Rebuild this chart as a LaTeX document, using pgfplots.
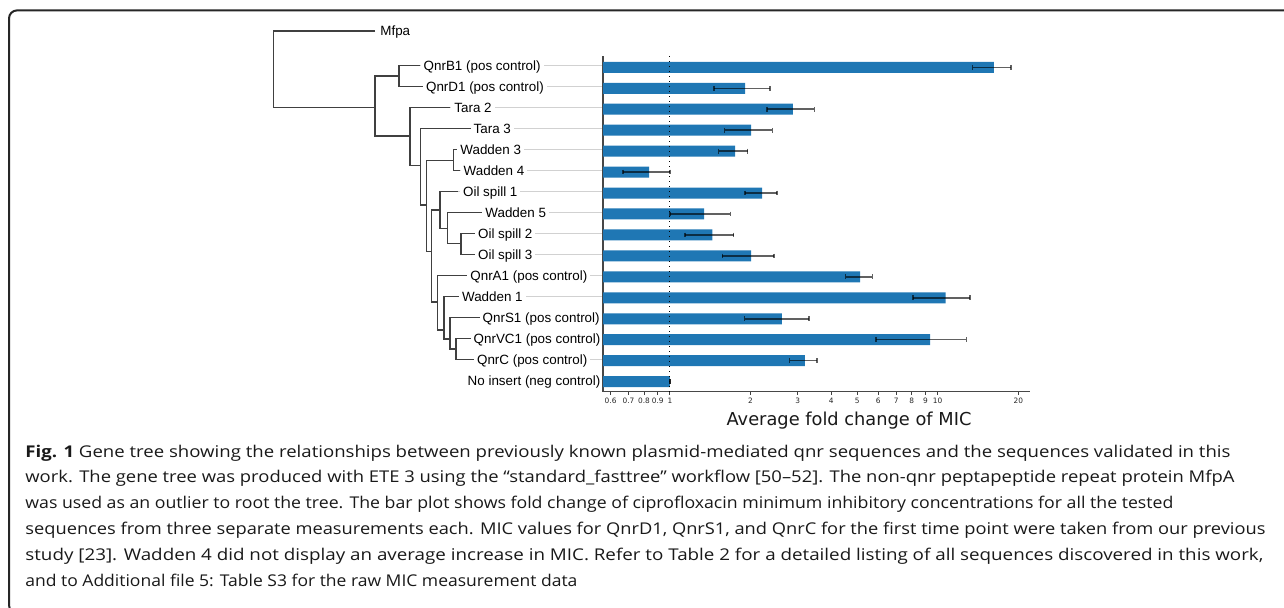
\documentclass[border=0pt]{standalone}
\usepackage{fontspec}
\usepackage{graphicx}
\usepackage{pgfplots}
\usepackage{pgfplotstable}
\pgfplotsset{compat=1.18}
\setmainfont{Open Sans}
\newfontfamily\lib{Liberation Sans}
\newfontfamily\dejavu{DejaVu Sans}
\newfontfamily\capfont{Open Sans}
\definecolor{barblue}{HTML}{1F77B4}

% fold change of MIC (row 15 = top bar)
\pgfplotstableread{
row val
15 16.2
14 1.91
13 2.88
12 2.01
11 1.75
10 0.835
9 2.21
8 1.34
7 1.44
6 2.01
5 5.13
4 10.7
3 2.62
2 9.36
1 3.19
0 1.0
}\bardata

\pgfplotsset{
  errb/.style={black, opacity=0.62, line width=0.75pt, mark=|, mark size=1.2pt, mark options={solid, line width=0.75pt}},
  tree/.style={black!75, line width=0.62pt},
  guide/.style={black!18, line width=0.55pt},
}
\tikzset{
  leaf/.style={anchor=base west, fill=white, inner xsep=1.5pt, inner ysep=1pt, font=\lib\fontsize{6.7pt}{8pt}\selectfont},
  capl/.style={anchor=base west, inner sep=0pt, font=\capfont\fontsize{8.1pt}{9pt}\selectfont, text=black!90},
}

\begin{document}
\begin{tikzpicture}
% ---------- pixel frame axis: tree, labels, caption ----------
\begin{axis}[
  name=px, at={(0pt,0pt)}, anchor=south west,
  width=642pt, height=303.5pt, scale only axis,
  xmin=0, xmax=1284, ymin=0, ymax=607, y dir=reverse,
  hide axis, clip=false,
]
% frame
\addplot[black!85, line width=1pt, rounded corners=4pt] coordinates {(1300,10.4) (9,10.4) (9,613) (1300,613)};
% guide lines
\addplot[guide] coordinates {(420,65.5) (603,65.5)};
\addplot[guide] coordinates {(425,86.5) (603,86.5)};
\addplot[guide] coordinates {(450,107.5) (603,107.5)};
\addplot[guide] coordinates {(472,128.5) (603,128.5)};
\addplot[guide] coordinates {(458,149.5) (603,149.5)};
\addplot[guide] coordinates {(460,170.5) (603,170.5)};
\addplot[guide] coordinates {(458.3,191.5) (603,191.5)};
\addplot[guide] coordinates {(482.7,212.5) (603,212.5)};
\addplot[guide] coordinates {(476,233.5) (603,233.5)};
\addplot[guide] coordinates {(476,254.5) (603,254.5)};
\addplot[guide] coordinates {(466.7,275.5) (603,275.5)};
\addplot[guide] coordinates {(460,296.5) (603,296.5)};
\addplot[guide] coordinates {(481,317.5) (603,317.5)};
\addplot[guide] coordinates {(473.3,338.5) (603,338.5)};
\addplot[guide] coordinates {(476,359.5) (603,359.5)};
% tree
\addplot[tree] coordinates {(375,31) (273.3,31) (273.3,107.5) (375,107.5)};
\addplot[tree] coordinates {(399,76) (375,76) (375,136) (410,136)};
\addplot[tree] coordinates {(420,65.5) (399,65.5) (399,86.5) (425,86.5)};
\addplot[tree] coordinates {(450,107.5) (410,107.5) (410,165.5) (420.5,165.5)};
\addplot[tree] coordinates {(472,128.5) (420.5,128.5) (420.5,205) (426.7,205)};
\addplot[tree] coordinates {(453.3,160.5) (426.7,160.5) (426.7,251.5) (431.7,251.5)};
\addplot[tree] coordinates {(458,149.5) (453.3,149.5) (453.3,170.5) (460,170.5)};
\addplot[tree] coordinates {(440,210) (431.7,210) (431.7,302) (437.5,302)};
\addplot[tree] coordinates {(458.3,191.5) (440,191.5) (440,228.3) (447.7,228.3)};
\addplot[tree] coordinates {(482.7,212.5) (447.7,212.5) (447.7,243.5) (461,243.5)};
\addplot[tree] coordinates {(476,233.5) (461,233.5) (461,254.5) (476,254.5)};
\addplot[tree] coordinates {(466.7,275.5) (437.5,275.5) (437.5,330) (444,330)};
\addplot[tree] coordinates {(460,296.5) (444,296.5) (444,339) (450,339)};
\addplot[tree] coordinates {(481,317.5) (450,317.5) (450,349) (456,349)};
\addplot[tree] coordinates {(473.3,338.5) (456,338.5) (456,359.5) (476,359.5)};
% leaf labels
\node[leaf] at (axis cs:377,35.8) {Mfpa};
\node[leaf] at (axis cs:420.3,70.3) {QnrB1 (pos control)};
\node[leaf] at (axis cs:422.7,91.3) {QnrD1 (pos control)};
\node[leaf] at (axis cs:451,112.3) {Tara 2};
\node[leaf] at (axis cs:470.3,133.3) {Tara 3};
\node[leaf] at (axis cs:457,154.3) {Wadden 3};
\node[leaf] at (axis cs:460.3,175.3) {Wadden 4};
\node[leaf] at (axis cs:459.7,196.3) {Oil spill 1};
\node[leaf] at (axis cs:482,217.3) {Wadden 5};
\node[leaf] at (axis cs:474.7,238.3) {Oil spill 2};
\node[leaf] at (axis cs:474.7,259.3) {Oil spill 3};
\node[leaf] at (axis cs:467,280.3) {QnrA1 (pos control)};
\node[leaf] at (axis cs:458.7,301.3) {Wadden 1};
\node[leaf] at (axis cs:479.3,322.3) {QnrS1 (pos control)};
\node[leaf] at (axis cs:470.3,343.3) {QnrVC1 (pos control)};
\node[leaf] at (axis cs:473.7,364.3) {QnrC (pos control)};
\node[leaf] at (axis cs:464.3,385.3) {No insert (neg control)};
% x axis label of bar plot
\node[anchor=base, inner sep=0pt, font=\dejavu\fontsize{8.9pt}{10pt}\selectfont, text=black!90] at (axis cs:849,425.7) {Average fold change of MIC};
% caption
\node[capl] at (axis cs:25,457) {\resizebox{602.5pt}{\height}{\textbf{Fig. 1} Gene tree showing the relationships between previously known plasmid-mediated qnr sequences and the sequences validated in this}};
\node[capl] at (axis cs:25,482.8) {\resizebox{604.5pt}{\height}{work. The gene tree was produced with ETE 3 using the “standard\_fasttree” workflow [50–52]. The non-qnr peptapeptide repeat protein MfpA}};
\node[capl] at (axis cs:25,508.6) {\resizebox{574pt}{\height}{was used as an outlier to root the tree. The bar plot shows fold change of ciprofloxacin minimum inhibitory concentrations for all the tested}};
\node[capl] at (axis cs:25,534.4) {\resizebox{620pt}{\height}{sequences from three separate measurements each. MIC values for QnrD1, QnrS1, and QnrC for the first time point were taken from our previous}};
\node[capl] at (axis cs:25,560.2) {\resizebox{619pt}{\height}{study [23]. Wadden 4 did not display an average increase in MIC. Refer to Table 2 for a detailed listing of all sequences discovered in this work,}};
\node[capl] at (axis cs:25,586) {\resizebox{276pt}{\height}{and to Additional file 5: Table S3 for the raw MIC measurement data}};
\end{axis}

% ---------- bar plot ----------
\begin{axis}[
  at={(301.5pt,107.65pt)}, anchor=south west,
  width=213.5pt, height=167.85pt, scale only axis,
  xmode=log, log origin=infty,
  xmin=0.5622, xmax=22.12,
  ymin=-0.48, ymax=15.539,
  axis x line*=bottom, axis y line*=left,
  axis line style={black!72, line width=0.7pt},
  ytick=\empty,
  xtick={0.6,0.7,0.8,0.9,1,2,3,4,5,6,7,8,9,10,20},
  xticklabels={0.6,0.7,0.8,0.9,1,2,3,4,5,6,7,8,9,10,20},
  xminorticks=false,
  tick align=outside, major tick length=1.5pt,
  xtick style={black!75, line width=0.5pt},
  xticklabel style={font=\dejavu\fontsize{3.7pt}{4pt}\selectfont, text=black!85, inner sep=1.5pt},
  enlargelimits=false,
]
\addplot[xbar, bar width=5.5pt, fill=barblue, draw=none] table[x=val, y=row] {\bardata};
% error bars (lower and upper ends)
\addplot[errb] coordinates {(13.5,15) (18.8,15)};
\addplot[errb] coordinates {(1.46,14) (2.36,14)};
\addplot[errb] coordinates {(2.30,13) (3.46,13)};
\addplot[errb] coordinates {(1.60,12) (2.41,12)};
\addplot[errb] coordinates {(1.52,11) (1.95,11)};
\addplot[errb] coordinates {(0.667,10) (1.0,10)};
\addplot[errb] coordinates {(1.91,9) (2.51,9)};
\addplot[errb] coordinates {(1.0,8) (1.68,8)};
\addplot[errb] coordinates {(1.14,7) (1.73,7)};
\addplot[errb] coordinates {(1.57,6) (2.45,6)};
\addplot[errb] coordinates {(4.53,5) (5.70,5)};
\addplot[errb] coordinates {(8.07,4) (13.2,4)};
\addplot[errb] coordinates {(1.90,3) (3.31,3)};
\addplot[errb] coordinates {(5.87,2) (12.8,2)};
\addplot[errb] coordinates {(2.80,1) (3.54,1)};
\addplot[errb] coordinates {(1.0,0) (1.0,0)};
% reference line at fold change 1
\addplot[black, dotted, line width=0.5pt] coordinates {(1,-0.48) (1,15.539)};
\end{axis}
\pgfresetboundingbox
\useasboundingbox (0,0) rectangle (642pt,303.5pt);
\end{tikzpicture}
\end{document}
